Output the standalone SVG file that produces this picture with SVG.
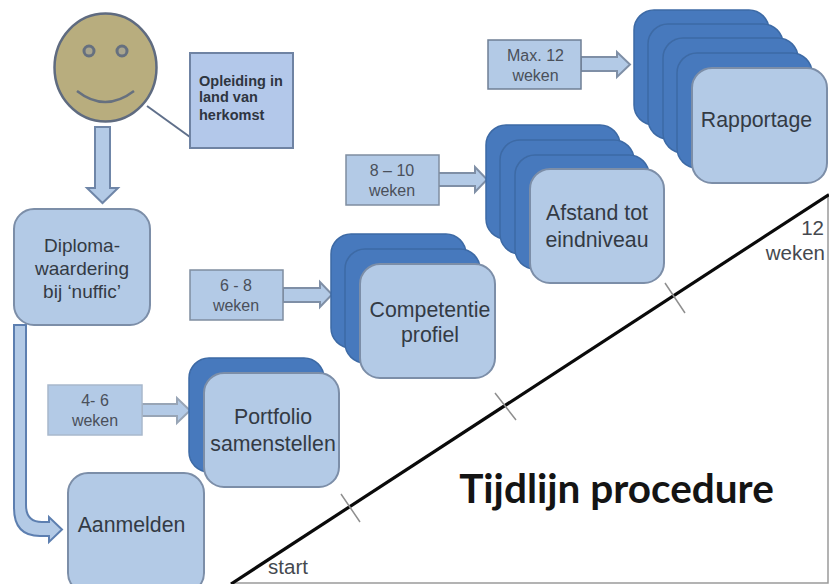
<svg xmlns="http://www.w3.org/2000/svg" width="829" height="584" viewBox="0 0 829 584">
<style>
text{font-family:"Liberation Sans",Arial,sans-serif;fill:#333a44;text-anchor:middle}
.t{font-size:19px}
.l{font-size:21.300px}
.s{font-size:16px;fill:#4a505a}
.o{font-size:14.500px;font-weight:700;text-anchor:start;fill:#2e3540}
.g{font-size:20.500px;fill:#45494f}
.f{fill:#b3cae6;stroke:#7c8ea8;stroke-width:2}
.b{fill:#4779bd;stroke:#3d6aa5;stroke-width:1.500}
.w{fill:#b3cae6;stroke:#7f8da0;stroke-width:1.500}
.a{fill:#b3cae6;stroke:#7f8fa6;stroke-width:2}
.k{stroke:#8f8f8f;stroke-width:1.500;fill:none}
</style>
<rect width="829" height="584" fill="#fff"/>
<g id="timeline">
<path d="M231 583H828V195" fill="none" stroke="#9a9a9a" stroke-width="1.500"/>
<path d="M231 584L829 194.500" stroke="#0a0a0a" stroke-width="3.200" fill="none"/>
<path class="k" d="M341 494L360 522M495 393L516 420M665 283L685 313"/>
<text x="288" y="574" class="g">start</text>
<text x="824" y="235" class="g" style="text-anchor:end">12</text>
<text x="825" y="260" class="g" style="text-anchor:end">weken</text>
<text x="616.500" y="503" style="font-family:Lato,'Open Sans',sans-serif;font-size:40.500px;font-weight:700;fill:#141414">Tijdlijn procedure</text>
</g>
<g id="connectors">
<path class="a" style="stroke:#6f86a8" d="M95 127H110V188H118L102.500 203L87 188H95Z"/>
<path d="M147 106L190 137" stroke="#5f6f8a" stroke-width="2" fill="none"/>
<path class="a" style="stroke:#5d7fb0" d="M14 325H26V505Q26 522 42 522H49V517L62 529.500L49 542V536H40Q14 536 14 508Z"/>
<path class="a" style="stroke:#98a5b6" d="M142 404H177V398L190 410.500L177 423V416H142Z"/>
<path class="a" d="M283 288H320V282L332 294.500L320 307V302H283Z"/>
<path class="a" d="M438 173H475V167L487 179.500L475 192V186H438Z"/>
<path class="a" d="M581 57H617V52L630 64.500L617 77V71H581Z"/>
</g>
<g id="face">
<ellipse cx="105.500" cy="67.500" rx="51" ry="54" fill="#b8ad7e" stroke="#5f6b80" stroke-width="2.500"/>
<circle cx="89" cy="51" r="5" fill="#a9a58e" stroke="#66707f" stroke-width="3"/>
<circle cx="122" cy="51" r="5" fill="#a9a58e" stroke="#66707f" stroke-width="3"/>
<path d="M77 91Q105 113 134 91" fill="none" stroke="#66707f" stroke-width="2.500"/>
</g>
<g id="opleiding">
<rect x="190" y="53" width="103" height="95" class="f" style="fill:#b3c8ea;stroke:#6f83a3"/>
<text x="199" y="86" class="o">Opleiding in</text>
<text x="199" y="102" class="o">land van</text>
<text x="199" y="120" class="o">herkomst</text>
</g>
<g id="diploma">
<rect x="14" y="209" width="136" height="116" rx="20" class="f"/>
<text x="82" y="252" class="t">Diploma-</text>
<text x="82" y="275" class="t">waardering</text>
<text x="82" y="298" class="t">bij ‘nuffic’</text>
</g>
<g id="aanmelden">
<rect x="68" y="473" width="136" height="120" rx="20" class="f"/>
<text x="131.500" y="532" class="l">Aanmelden</text>
</g>
<g id="duur-4-6">
<rect x="48" y="385" width="94" height="50" class="w" style="stroke:#a8b8cc"/>
<text x="95" y="406" class="s">4- 6</text>
<text x="95" y="426" class="s">weken</text>
</g>
<g id="portfolio">
<rect x="189" y="358" width="135" height="114" rx="20" class="b"/>
<rect x="204" y="373" width="135" height="114" rx="20" class="f"/>
<text x="273" y="424" class="l">Portfolio</text>
<text x="273" y="451" class="l">samenstellen</text>
</g>
<g id="duur-6-8">
<rect x="190" y="270" width="93" height="50" class="w"/>
<text x="236" y="291" class="s">6 - 8</text>
<text x="236" y="311" class="s">weken</text>
</g>
<g id="competentie">
<rect x="331" y="234" width="135" height="114" rx="20" class="b"/>
<rect x="345" y="249" width="135" height="114" rx="20" class="b"/>
<rect x="360" y="264" width="135" height="114" rx="20" class="f"/>
<text x="430" y="317" class="l">Competentie</text>
<text x="430" y="342" class="l">profiel</text>
</g>
<g id="duur-8-10">
<rect x="346" y="155" width="93" height="50" class="w"/>
<text x="392" y="176" class="s">8 – 10</text>
<text x="392" y="196" class="s">weken</text>
</g>
<g id="afstand">
<rect x="486" y="125" width="134" height="114" rx="20" class="b"/>
<rect x="500" y="140" width="134" height="114" rx="20" class="b"/>
<rect x="515" y="155" width="134" height="114" rx="20" class="b"/>
<rect x="530" y="169" width="134" height="114" rx="20" class="f"/>
<text x="597" y="220" class="l">Afstand tot</text>
<text x="597" y="247" class="l">eindniveau</text>
</g>
<g id="duur-max-12">
<rect x="488" y="40" width="93" height="49" class="w" style="stroke:#6f7f95"/>
<text x="535.500" y="61" class="s">Max. 12</text>
<text x="535.500" y="81" class="s">weken</text>
</g>
<g id="rapportage">
<rect x="634" y="10" width="135" height="115" rx="20" class="b"/>
<rect x="648" y="24" width="135" height="115" rx="20" class="b"/>
<rect x="663" y="38" width="135" height="115" rx="20" class="b"/>
<rect x="677" y="53" width="135" height="115" rx="20" class="b"/>
<rect x="692" y="68" width="135" height="115" rx="20" class="f"/>
<text x="756.500" y="127" class="l">Rapportage</text>
</g>
</svg>
